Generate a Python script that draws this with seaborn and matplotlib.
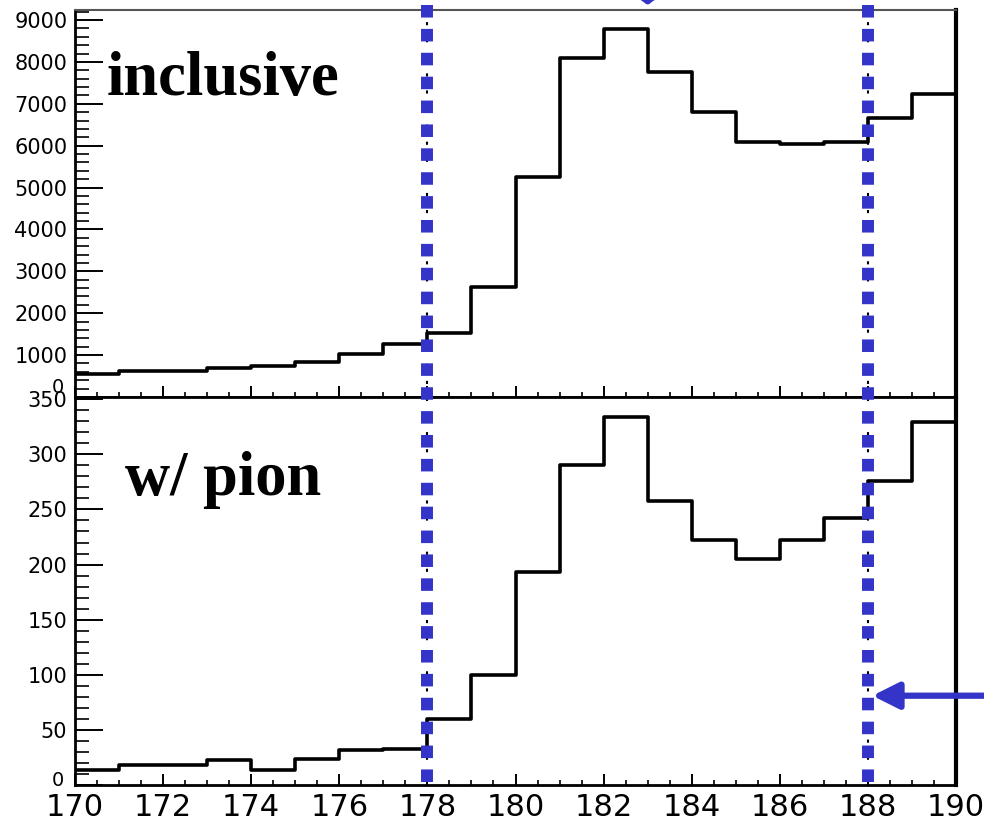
import numpy as np
import matplotlib
matplotlib.use("Agg")
import matplotlib.pyplot as plt
import matplotlib.transforms as mtransforms
from matplotlib.lines import Line2D
from matplotlib.ticker import MultipleLocator
import seaborn as sns

# ---- data ----
bin_edges = [170, 171, 172, 173, 174, 175, 176, 177, 178, 179, 180,
             181, 182, 183, 184, 185, 186, 187, 188, 189, 190]
bin_centers = [170.5, 171.5, 172.5, 173.5, 174.5, 175.5, 176.5, 177.5, 178.5, 179.5,
               180.5, 181.5, 182.5, 183.5, 184.5, 185.5, 186.5, 187.5, 188.5, 189.5]
inclusive_counts = [555, 610, 610, 690, 737, 833, 1017, 1256, 1536, 2627,
                    5258, 8090, 8790, 7770, 6813, 6096, 6033, 6081, 6655, 7230]
pion_counts = [13.5, 18, 18, 22.5, 13.5, 24, 31.5, 33, 59.5, 100,
               193, 290, 334, 258, 222, 205, 222, 242, 276, 329]
cut_positions = [178, 188]
x_tick_values = [170, 172, 174, 176, 178, 180, 182, 184, 186, 188, 190]
top_yticks = [0, 1000, 2000, 3000, 4000, 5000, 6000, 7000, 8000, 9000]
bot_yticks = [0, 50, 100, 150, 200, 250, 300, 350]
top_label = "inclusive"
bot_label = "w/ pion"

BLUE = "#3434C8"

sns.set_theme(style="white")
plt.rcParams["font.family"] = ["DejaVu Sans"]

fig = plt.figure(figsize=(9.84, 8.22), dpi=100)
W, H = 984, 822
left, right = 75, 956
ax1 = fig.add_axes([left / W, (H - 397) / H, (right - left) / W, (397 - 10) / H])
ax2 = fig.add_axes([left / W, (H - 785) / H, (right - left) / W, (785 - 397) / H])

for ax, counts, ymax in [(ax1, inclusive_counts, 9240), (ax2, pion_counts, 352)]:
    sns.histplot(x=bin_centers, weights=counts, bins=bin_edges, element="step",
                 fill=False, color="black", linewidth=2.6, ax=ax)
    ax.set_xlim(170, 190)
    ax.set_ylim(0, ymax)
    ax.set_xlabel("")
    ax.set_ylabel("")
    ax.set_facecolor("white")
    ax.grid(False)
    for s in ["left", "bottom"]:
        ax.spines[s].set_linewidth(2.0)
        ax.spines[s].set_color("black")
    ax.spines["right"].set_linewidth(3.0)
    ax.spines["right"].set_color("black")
    ax.set_xticks(x_tick_values)
    ax.xaxis.set_minor_locator(MultipleLocator(0.5))
    ax.tick_params(axis="x", which="major", direction="in", length=8, width=1.4,
                   bottom=True, top=False, color="black")
    ax.tick_params(axis="x", which="minor", direction="in", length=3.6, width=1.2,
                   bottom=True, top=False, color="black")
    ax.tick_params(axis="y", which="major", direction="in", length=20, width=1.4,
                   left=True, right=False, color="black", labelsize=15, pad=5.5)
    ax.tick_params(axis="y", which="minor", direction="in", length=10, width=1.2,
                   left=True, right=False, color="black")

ax1.spines["top"].set_linewidth(1.5)
ax1.spines["top"].set_color("#555555")
ax2.spines["top"].set_linewidth(2.0)
ax2.spines["top"].set_color("black")

ax1.set_yticks(top_yticks, labels=[""] + [str(v) for v in top_yticks[1:]])
ax1.yaxis.set_minor_locator(MultipleLocator(200))
ax1.tick_params(axis="x", labelbottom=False)

ax2.set_yticks(bot_yticks, labels=[""] + [str(v) for v in bot_yticks[1:]])
ax2.yaxis.set_minor_locator(MultipleLocator(10))
ax2.set_xticks(x_tick_values, labels=[str(v) for v in x_tick_values])
ax2.tick_params(axis="x", labelsize=22, pad=5.5)
for lab in ax1.get_yticklabels() + ax2.get_yticklabels() + ax2.get_xticklabels():
    lab.set_color("black")

# raised "0" labels (as in the original ROOT output)
for ax, shift in [(ax1, 0.10), (ax2, 0.05)]:
    ax.text(-0.012, 0, "0",
            transform=mtransforms.blended_transform_factory(ax.transAxes, ax.transData)
            + mtransforms.ScaledTranslation(0, shift, fig.dpi_scale_trans),
            ha="right", va="center", fontsize=14, color="black")

# labels
ax1.text(0.036, 0.78, top_label, transform=ax1.transAxes, ha="left", va="baseline",
         fontsize=45, fontweight="bold", family=["Liberation Serif", "DejaVu Serif"], color="black")
ax2.text(0.057, 0.747, bot_label, transform=ax2.transAxes, ha="left", va="baseline",
         fontsize=45, fontweight="bold", family=["Liberation Serif", "DejaVu Serif"], color="black")

# vertical cut lines spanning both panels
trans = mtransforms.blended_transform_factory(ax2.transData, fig.transFigure)
for xc in cut_positions:
    fig.add_artist(Line2D([xc, xc], [(H - 5) / H, (H - 785) / H], transform=trans,
                          color="black", linewidth=1.5, linestyle=(0, (1.5, 6.7)), zorder=5))
    fig.add_artist(Line2D([xc, xc], [(H - 5) / H, (H - 785) / H], transform=trans,
                          color=BLUE, linewidth=8.6, linestyle=(0, (1.05, 0.95)),
                          solid_capstyle="butt", dash_capstyle="butt", zorder=6))

# arrow in lower panel pointing at the right cut
ax2.annotate("", xy=(188.1, 81), xycoords="data", xytext=(1.02, 81),
             textcoords=("figure fraction", "data"),
             arrowprops=dict(arrowstyle="-|>,head_length=0.4,head_width=0.2",
                             color=BLUE, lw=4.5, mutation_scale=40, shrinkA=0, shrinkB=0),
             annotation_clip=False, zorder=4)
# arrow tip at the top edge (mostly outside the figure)
ax1.annotate("", xy=(183.0, (H - 5) / H), xycoords=("data", "figure fraction"),
             xytext=(183.0, 1.1), textcoords=("data", "figure fraction"),
             arrowprops=dict(arrowstyle="-|>,head_length=0.25,head_width=0.35",
                             color=BLUE, lw=4.5, mutation_scale=40, shrinkA=0, shrinkB=0),
             annotation_clip=False)

fig.savefig("out.png", dpi=100, facecolor="white")
